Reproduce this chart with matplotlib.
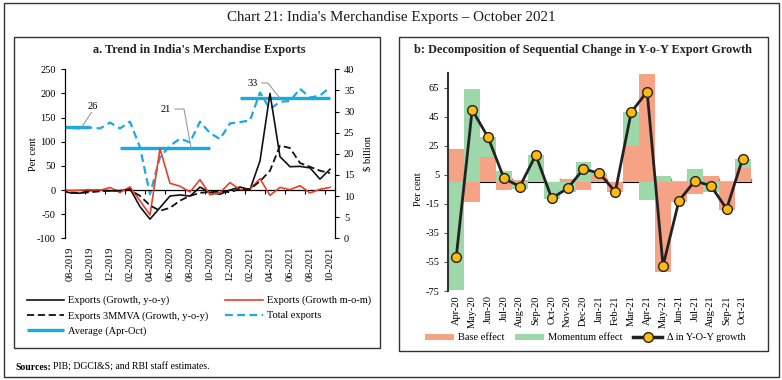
import matplotlib
matplotlib.use('Agg')
import matplotlib.pyplot as plt
import numpy as np
from matplotlib.patches import Rectangle, Patch
from matplotlib.lines import Line2D

plt.rcParams['font.family'] = ['Liberation Serif', 'DejaVu Serif']
plt.rcParams['axes.unicode_minus'] = False

# ---------------- Panel a data ----------------
months_a = ['07-2019', '08-2019', '09-2019', '10-2019', '11-2019', '12-2019',
            '01-2020', '02-2020', '03-2020', '04-2020', '05-2020', '06-2020',
            '07-2020', '08-2020', '09-2020', '10-2020', '11-2020', '12-2020',
            '01-2021', '02-2021', '03-2021', '04-2021', '05-2021', '06-2021',
            '07-2021', '08-2021', '09-2021', '10-2021']
exports_yoy = [0.0, -6.0, -6.6, -1.1, -0.3, -1.8, -1.7, 2.9, -34.6, -60.3,
               -36.5, -12.4, -10.2, -12.7, 6.0, -5.1, -8.7, 0.1, 6.2, 0.7,
               60.3, 200.0, 69.0, 48.3, 49.0, 45.8, 22.6, 43.0]
exports_mom = [0.5, -0.8, -0.4, 0.8, -0.8, 5.3, -5.1, 6.5, -22.3, -51.8,
               85.7, 13.9, 7.9, -4.0, 21.5, -9.8, -5.5, 15.4, 1.1, 1.7,
               23.3, -11.1, 5.4, 0.7, 9.0, -6.1, 1.5, 5.5]
exports_3mma = [-2.0, -5.0, -6.0, -4.6, -2.7, -1.1, -1.3, 0.0, -12.0, -32.0,
                -43.0, -37.0, -22.0, -12.0, -6.0, -4.0, -3.0, -4.5, 2.3, 2.1,
                18.0, 40.0, 92.0, 87.0, 56.0, 48.0, 40.0, 35.0]
total_exports = [26.3, 26.1, 26.0, 26.2, 26.0, 27.4, 26.0, 27.6, 21.5, 10.4,
                 19.2, 21.9, 23.6, 22.7, 27.6, 24.9, 23.5, 27.2, 27.5, 27.9,
                 34.5, 30.6, 32.3, 32.5, 35.4, 33.3, 33.8, 35.7]
nan = np.nan
average_apr_oct = [26.4, 26.4, 26.4, 26.4, nan, nan,
                   21.4, 21.4, 21.4, 21.4, 21.4, 21.4, 21.4, 21.4, 21.4, 21.4,
                   nan, nan,
                   33.3, 33.3, 33.3, 33.3, 33.3, 33.3, 33.3, 33.3, 33.3, 33.3]
avg_labels = ['26', '21', '33']

# ---------------- Panel b data ----------------
months_b = ['Apr-20', 'May-20', 'Jun-20', 'Jul-20', 'Aug-20', 'Sep-20', 'Oct-20',
            'Nov-20', 'Dec-20', 'Jan-21', 'Feb-21', 'Mar-21', 'Apr-21', 'May-21',
            'Jun-21', 'Jul-21', 'Aug-21', 'Sep-21', 'Oct-21']
base_effect = [23.0, -14.0, 17.0, -5.2, 1.5, 0.3, 0.2, 2.5, -5.6, 5.0, -7.0,
               25.0, 74.5, -62.2, -13.8, -8.4, 4.0, -19.5, 9.5]
momentum_effect = [-74.5, 64.0, 14.0, 7.7, -4.5, 18.4, -11.3, -6.8, 14.1, 1.1,
                   0.4, 23.2, -12.0, 4.5, 0.6, 9.1, -6.6, 1.0, 6.5]
delta_yoy = [-51.5, 49.8, 30.9, 2.6, -3.0, 18.7, -11.1, -4.3, 9.1, 6.1, -6.6,
             48.2, 62.4, -57.7, -12.8, 0.8, -2.4, -18.4, 16.0]

W, H = 782, 380
fig = plt.figure(figsize=(W / 100, H / 100), dpi=100)

def fx(px):
    return px / W

def fy(py):
    return 1 - py / H

# frames
fig.add_artist(Rectangle((fx(3.5), fy(377)), fx(775.5), (374 / H), transform=fig.transFigure,
                         fill=False, lw=1.0, ec='#333333'))
fig.add_artist(Rectangle((fx(14), fy(348)), fx(366), (311.3 / H), transform=fig.transFigure,
                         fill=False, lw=1.0, ec='#333333'))
fig.add_artist(Rectangle((fx(399), fy(350.7)), fx(368.5), (314 / H), transform=fig.transFigure,
                         fill=False, lw=1.0, ec='#333333'))

fig.text(0.5, fy(18), "Chart 21: India's Merchandise Exports \u2013 October 2021",
         ha='center', va='center', fontsize=10.8, color='#1a1a1a')
fig.text(fx(199), fy(50), "a. Trend in India's Merchandise Exports",
         ha='center', va='center', fontsize=8.8, fontweight='bold', color='#222222')
fig.text(fx(583), fy(50.5), "b: Decomposition of Sequential Change in Y-o-Y Export Growth",
         ha='center', va='center', fontsize=8.8, fontweight='bold', color='#222222')

FS = 7.5

# ---------------- Panel a ----------------
ax = fig.add_axes([fx(65), fy(238.3), fx(270), 169 / H])
ax2 = ax.twinx()
x_a = np.arange(len(months_a))
blue = '#1BA9E1'
l_tot, = ax2.plot(x_a, total_exports, color=blue, lw=1.6, dashes=(3.5, 2))
l_avg, = ax2.plot(x_a, average_apr_oct, color=blue, lw=2.4, solid_capstyle='butt')
ax2.set_ylim(0, 40)
ax2.set_yticks(range(0, 41, 5))

l_yoy, = ax.plot(x_a, exports_yoy, color='#111111', lw=1.2)
l_mom, = ax.plot(x_a, exports_mom, color='#E8402A', lw=1.2)
l_3m, = ax.plot(x_a, exports_3mma, color='#111111', lw=1.3, dashes=(4, 2))
ax.set_zorder(ax2.get_zorder() + 1)
ax.patch.set_visible(False)
ax.set_ylim(-100, 250)
ax.set_yticks(range(-100, 251, 50))
ax.set_xlim(0.5, len(months_a) - 0.5)
ax.set_xticks(x_a[1::2])
ax.set_xticklabels(months_a[1::2], rotation=90, fontsize=FS)
ax.tick_params(axis='x', length=0, pad=6)
ax.tick_params(axis='y', labelsize=FS, length=3, width=0.8)
ax2.tick_params(axis='y', labelsize=FS, length=3, width=0.8)
for a in (ax, ax2):
    a.spines['top'].set_visible(False)
    a.spines['bottom'].set_visible(False)
    for s in ('left', 'right'):
        a.spines[s].set_linewidth(0.8)
ax.set_ylabel('Per cent', fontsize=FS)
ax.yaxis.set_label_coords(-0.10, 0.5)
ax2.set_ylabel('$ billion', fontsize=FS)
ax2.yaxis.set_label_coords(1.105, 0.5)

sec = ax.secondary_xaxis(100 / 350)
sec.set_xticks(x_a[1::2] - 0.5)
sec.set_xticklabels([])
sec.tick_params(length=3, width=0.8, direction='out')
sec.spines['bottom'].set_linewidth(0.9)

# annotations for averages
grey = '#9A9A9A'
ax2.plot([3.15, 2.2], [29.8, 26.4], color=grey, lw=0.8)
ax2.text(3.3, 31.1, avg_labels[0], ha='center', va='center', fontsize=FS)
ax2.plot([11.5, 12.4, 13.1], [30.6, 30.6, 21.5], color=grey, lw=0.8)
ax2.text(10.6, 30.4, avg_labels[1], ha='center', va='center', fontsize=FS)
ax2.plot([20.2, 20.8, 21.9], [36.75, 36.75, 33.4], color=grey, lw=0.8)
ax2.text(19.3, 36.6, avg_labels[2], ha='center', va='center', fontsize=FS)

fig.legend([l_yoy, l_3m, l_avg, l_mom, l_tot],
           ['Exports (Growth, y-o-y)', 'Exports 3MMVA (Growth, y-o-y)', 'Average (Apr-Oct)',
            'Exports (Growth m-o-m)', 'Total exports'],
           ncol=2, loc='center', bbox_to_anchor=(fx(199), fy(316)), frameon=False,
           fontsize=FS, handlelength=3.6, handletextpad=0.4, columnspacing=1.6,
           labelspacing=0.55)

# ---------------- Panel b ----------------
axb = fig.add_axes([fx(448.3), fy(291), fx(302.2), 217.7 / H])
x_b = np.arange(len(months_b))
salmon = '#F5A285'
green = '#9ED7A9'
base_arr = np.array(base_effect)
mom_arr = np.array(momentum_effect)
mom_bottom = np.where(np.sign(mom_arr) == np.sign(base_arr), base_arr, 0.0)
b1 = axb.bar(x_b, base_arr, width=1.0, color=salmon, lw=0)
b2 = axb.bar(x_b, mom_arr, bottom=mom_bottom, width=1.0, color=green, lw=0)
l_d, = axb.plot(x_b, delta_yoy, color='#222222', lw=2.0, marker='o', markersize=7,
                markerfacecolor='#FDBA12', markeredgecolor='#222222', markeredgewidth=1.0,
                zorder=5)
axb.set_ylim(-75, 75)
axb.set_yticks(range(-75, 66, 20))
axb.set_xlim(-0.5, len(months_b) - 0.5)
axb.set_xticks(x_b)
axb.set_xticklabels(months_b, rotation=90, fontsize=FS)
axb.tick_params(axis='x', length=0, pad=3)
axb.tick_params(axis='y', labelsize=FS, length=3, width=0.8, color='#555555')
for s in ('top', 'right', 'bottom'):
    axb.spines[s].set_visible(False)
axb.spines['left'].set_linewidth(1.5)
axb.spines['left'].set_color('#333333')
axb.set_ylabel('Per cent', fontsize=FS)
axb.yaxis.set_label_coords(-0.085, 0.47)

secb = axb.secondary_xaxis(0.5)
secb.set_xticks(np.arange(-0.5, len(months_b), 1.0))
secb.set_xticklabels([])
secb.tick_params(length=3, width=1.0, color='#888888', direction='out')
secb.spines['bottom'].set_linewidth(2.0)
secb.spines['bottom'].set_color('#333333')

fig.legend([Patch(facecolor=salmon), Patch(facecolor=green),
            Line2D([], [], color='#222222', lw=2.5, marker='o', markersize=7,
                   markerfacecolor='#FDBA12', markeredgecolor='#222222')],
           ['Base effect', 'Momentum effect', '\u0394 in Y-O-Y growth'],
           ncol=3, loc='center', bbox_to_anchor=(fx(585), fy(338)), frameon=False,
           fontsize=FS, handlelength=2.8, handleheight=0.55, handletextpad=0.4,
           columnspacing=1.0)

# sources
t1 = fig.text(fx(15), fy(367), 'Sources:', fontsize=7, fontweight='bold', va='center')
fig.canvas.draw()
bb = t1.get_window_extent(renderer=fig.canvas.get_renderer())
fig.text(bb.x1 / W + 0.003, fy(367), 'PIB; DGCI&S; and RBI staff estimates.', fontsize=7,
         va='center')

fig.savefig('out.png', dpi=100)
